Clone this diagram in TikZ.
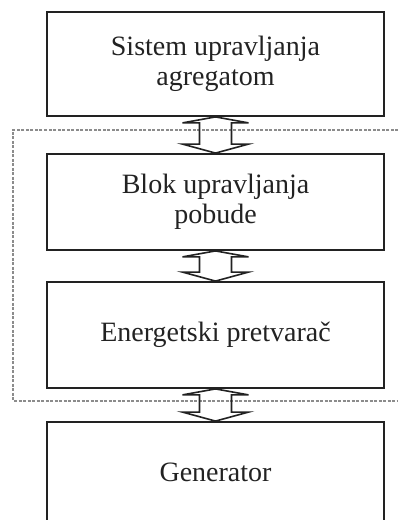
\documentclass[tikz,border=0pt]{standalone}
\usepackage{fontspec}
\setmainfont{Liberation Serif}
\usetikzlibrary{calc}
\definecolor{inkline}{RGB}{34,34,34}
\definecolor{frameline}{RGB}{140,140,140}
% double block arrow between two stacked blocks
\newcommand{\coupling}[2]{%
  \draw[couple] (#1.south) -- ($(#1.south)+(-33,-6)$) -- ++(17,0)
    -- ($(#2.north)+(-16,9)$) -- ++(-17,0) -- (#2.north)
    -- ($(#2.north)+(33,9)$) -- ++(-17,0)
    -- ($(#1.south)+(16,-6)$) -- ++(17,0) -- cycle;}

\begin{document}
\begin{tikzpicture}[x=1pt,y=1pt,
    block/.style={draw=inkline,line width=1.8pt,minimum width=337pt,
      inner sep=0pt,align=center,text=inkline,
      font=\fontsize{28}{30}\selectfont},
    couple/.style={draw=inkline,line width=1.6pt,line join=miter},
    group/.style={draw=frameline,line width=1.3pt,
      dash pattern=on 3pt off 1.5pt}]
    \clip (0,0) rectangle (398,520);
    % Blocks
    \node[block,minimum height=104pt] (sys) at (215.5,456) {Sistem upravljanja\\agregatom};
    \node[block,minimum height=96pt] (exc) at (215.5,318) {Blok upravljanja\\pobude};
    \node[block,minimum height=106pt] (conv) at (215.5,185) {Energetski pretvarač};
    \node[block,minimum height=100pt] (gen) at (215.5,48) {Generator};
    % Group around the excitation part
    \coordinate (grpNE) at (398,390);
    \coordinate (grpNW) at (13,390);
    \coordinate (grpSW) at (13,119);
    \coordinate (grpSE) at (398,119);
    \draw[group] (grpNE) -- (grpNW) -- (grpSW) -- (grpSE);
    % Links
    \coupling{sys}{exc}
    \coupling{exc}{conv}
    \coupling{conv}{gen}
\end{tikzpicture}
\end{document}
